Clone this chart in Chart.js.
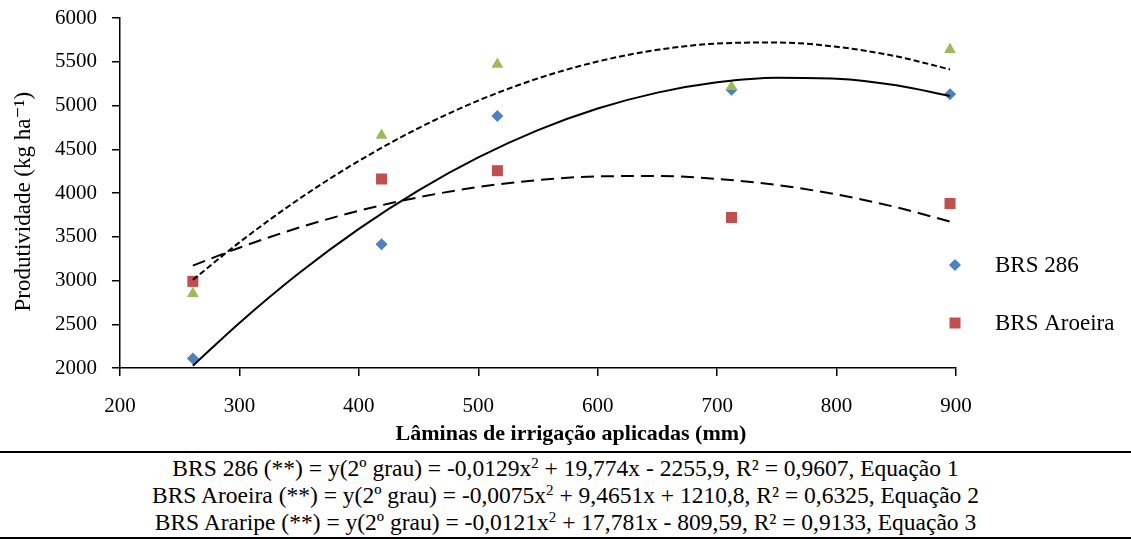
<!DOCTYPE html>
<html>
<head>
<meta charset="utf-8">
<script src="https://cdn.jsdelivr.net/npm/chart.js@4.4.0/dist/chart.umd.min.js"></script>
<style>
body { margin:0; background:#fff; width:1131px; height:539px; overflow:hidden; position:relative; font-family:"Liberation Serif", "DejaVu Serif", serif; }
#caixa { position:absolute; left:0; top:0; width:1131px; height:450px; }
#equacoes { position:absolute; left:0; top:451px; width:1131px; border-top:2px solid #000; border-bottom:2px solid #000; text-align:center; font-size:23.5px; line-height:27px; padding:2px 0 1px 0; color:#000; }
sup { font-size:15px; line-height:0; vertical-align:8px; }
</style>
</head>
<body>
<div id="caixa"><canvas id="grafica"></canvas></div>
<div id="equacoes">
  <div>BRS 286 (**) = y(2º grau) = -0,0129x<sup>2</sup> + 19,774x - 2255,9, R² = 0,9607, Equação 1</div>
  <div>BRS Aroeira (**) = y(2º grau) = -0,0075x<sup>2</sup> + 9,4651x + 1210,8, R² = 0,6325, Equação 2</div>
  <div>BRS Araripe (**) = y(2º grau) = -0,0121x<sup>2</sup> + 17,781x - 809,59, R² = 0,9133, Equação 3</div>
</div>
<script>
// laminas de irrigacao (mm) e produtividade (kg/ha)
var laminas = [261, 419, 516, 712, 895];
var brs286 = [2110, 3415, 4880, 5180, 5130];
var aroeira = [2990, 4160, 4255, 3720, 3880];
var araripe = [2850, 4660, 5470, 5215, 5640];

// linhas de tendencia
var xCurva = [261, 300, 350, 400, 450, 500, 550, 600, 650, 700, 750, 800, 850, 895];
var curva286 = [2026, 2515, 3085, 3590, 4030, 4406, 4718, 4965, 5147, 5265, 5318, 5307, 5232, 5109];
var curvaAroeira = [3170, 3375, 3605, 3797, 3951, 4068, 4148, 4190, 4194, 4161, 4091, 3983, 3837, 3674];
var curvaAraripe = [3007, 3436, 3932, 4367, 4742, 5056, 5310, 5503, 5636, 5708, 5720, 5671, 5562, 5412];

var nomes = ['BRS 286', 'BRS Aroeira', 'BRS Araripe'];
var cores = ['#4F81BD', '#C0504D', '#9BBB59'];
var fonte = '"Liberation Serif", "DejaVu Serif", serif';

// espacos para deslocar os titulos como na figura original
var espacoX = '\u00A0'.repeat(12);
var espacoY = '\u00A0'.repeat(3);

function pontos(xs, ys){
    return xs.map(function(x, i){ return {x: x, y: ys[i]}; });
}

function curva(ys, tracejado){
    return {
        label: '',
        data: pontos(xCurva, ys),
        showLine: true,
        borderColor: '#000',
        borderWidth: 2,
        borderDash: tracejado,
        pointRadius: 0,
        cubicInterpolationMode: 'monotone',
        fill: false,
        order: 0
    };
}

// legenda desenhada a mao (so as duas primeiras series aparecem)
var legenda = {
    id: 'legenda',
    afterDraw: function(chart){
        var ctx = chart.ctx;
        var y = [265, 323];
        ctx.save();
        for (var i = 0; i < 2; i++){
            ctx.fillStyle = cores[i];
            ctx.beginPath();
            if (i == 0){
                ctx.moveTo(955, y[i] - 6);
                ctx.lineTo(961, y[i]);
                ctx.lineTo(955, y[i] + 6);
                ctx.lineTo(949, y[i]);
            } else {
                ctx.rect(949.5, y[i] - 5.5, 11, 11);
            }
            ctx.closePath();
            ctx.fill();
            ctx.fillStyle = '#000';
            ctx.font = '23px ' + fonte;
            ctx.textAlign = 'left';
            ctx.textBaseline = 'middle';
            ctx.fillText(nomes[i], 995, y[i] + 1);
        }
        ctx.restore();
    }
};

Chart.defaults.color = '#000';
Chart.defaults.font.family = fonte;

var ctx = document.getElementById('grafica').getContext('2d');

var grafica = new Chart(ctx, {
    type: 'scatter',
    data: {
        datasets: [
            curva(curva286, []),
            curva(curvaAroeira, [13, 7]),
            curva(curvaAraripe, [6, 3]),
            {
                label: nomes[2],
                data: pontos(laminas, araripe),
                pointStyle: 'triangle',
                pointRadius: 6.8,
                pointBackgroundColor: cores[2],
                pointBorderColor: cores[2],
                pointBorderWidth: 0,
                order: 1
            },
            {
                label: nomes[1],
                data: pontos(laminas, aroeira),
                pointStyle: 'rect',
                pointRadius: 7.8,
                pointBackgroundColor: cores[1],
                pointBorderColor: cores[1],
                pointBorderWidth: 0,
                order: 2
            },
            {
                label: nomes[0],
                data: pontos(laminas, brs286),
                pointStyle: 'rectRot',
                pointRadius: 6,
                pointBackgroundColor: cores[0],
                pointBorderColor: cores[0],
                pointBorderWidth: 0,
                order: 3
            }
        ]
    },
    options: {
        responsive: true,
        maintainAspectRatio: false,
        animation: false,
        devicePixelRatio: 1,
        layout: { padding: { left: 0, top: 18, right: 175, bottom: 0 } },
        plugins: {
            legend: { display: false },
            tooltip: { enabled: false }
        },
        scales: {
            x: {
                type: 'linear',
                min: 200,
                max: 900,
                ticks: { stepSize: 100, font: { size: 21 }, padding: 18, color: '#000', callback: function(v){ return String(v); } },
                grid: { drawOnChartArea: false, drawTicks: true, tickLength: 8, color: '#000', lineWidth: 1.5 },
                border: { color: '#000', width: 1.5 },
                title: {
                    display: true,
                    text: espacoX + 'Lâminas de irrigação aplicadas (mm)',
                    font: { size: 22, weight: 'bold' },
                    padding: { top: 0, bottom: 2 },
                    color: '#000'
                },
                afterFit: function(scale){ scale.height = 82; }
            },
            y: {
                min: 2000,
                max: 6000,
                ticks: { stepSize: 500, font: { size: 21 }, padding: 15, color: '#000', callback: function(v){ return String(v); } },
                grid: { drawOnChartArea: false, drawTicks: true, tickLength: 8, color: '#000', lineWidth: 1.5 },
                border: { color: '#000', width: 1.5 },
                title: {
                    display: true,
                    text: 'Produtividade (kg ha⁻¹)' + espacoY,
                    font: { size: 23 },
                    padding: { top: 10, bottom: 0 },
                    color: '#000'
                },
                afterFit: function(scale){
                    scale.width = 120;
                    scale.paddingTop = 0;
                    scale.paddingBottom = 0;
                }
            }
        }
    },
    plugins: [legenda]
});
</script>
</body>
</html>
